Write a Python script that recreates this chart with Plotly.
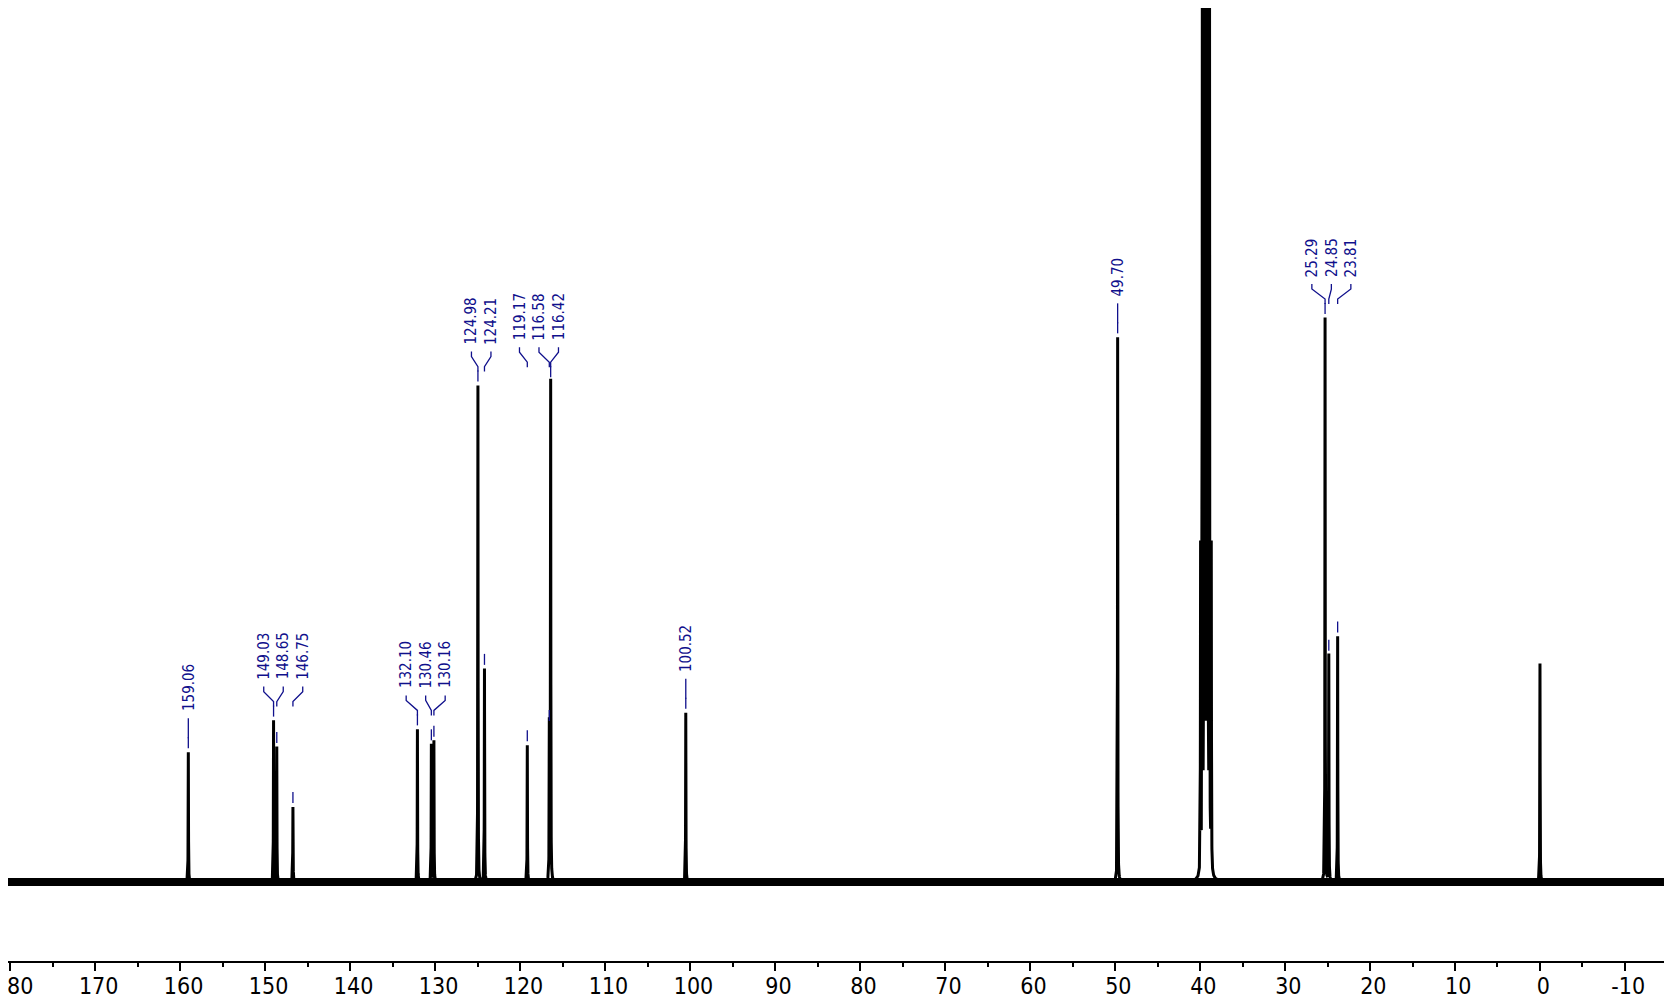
import numpy as np
import plotly.graph_objects as go

# ---------------- data ----------------
peak_ppm = [159.06, 149.03, 148.65, 146.75, 132.10, 130.46, 130.16, 124.98, 124.21,
            119.17, 116.58, 116.42, 100.52, 49.70, 25.29, 24.85, 23.81]
peak_height = [0.148, 0.184, 0.154, 0.0855, 0.174, 0.157, 0.161, 0.566, 0.243,
               0.156, 0.179, 0.571, 0.193, 0.621, 0.643, 0.259, 0.280]
peak_group = [0, 1, 1, 1, 2, 2, 2, 3, 3, 4, 4, 4, 5, 6, 7, 7, 7]

# unlabelled signals: solvent septet (DMSO-d6) and TMS reference
solvent_ppm = [39.94, 39.73, 39.52, 39.31, 39.10, 38.89, 38.68]
solvent_height = [0.37, 1.11, 2.22, 2.59, 2.22, 1.11, 0.37]
tms_ppm = [0.00]
tms_height = [0.249]

tick_values = [180, 170, 160, 150, 140, 130, 120, 110, 100, 90, 80, 70, 60, 50,
               40, 30, 20, 10, 0, -10]
tick_text = ["\u00a0" + str(v) for v in tick_values]

# ---------------- layout constants ----------------
# the page body adds an 8 px margin, so the figure is sized to end at the window edge
W, H = 1664, 992
M_L, M_R, M_T, M_B = 0, 6, 0, 39
X_RANGE = [180.28, -14.83]
plot_h = H - M_T - M_B
plot_w = W - M_L - M_R
KY = 1.09 / 956                                   # data units per pixel (y)
Y_RANGE = [-79 * KY, (plot_h - 79) * KY]
KX = (X_RANGE[0] - X_RANGE[1]) / plot_w          # ppm per pixel (x)
GAMMA = 0.02
LABEL_COLOR = "#10108c"
FONT = "DejaVu Sans Condensed, DejaVu Sans"

# ---------------- spectrum trace ----------------
all_ppm = peak_ppm + solvent_ppm + tms_ppm
all_h = peak_height + solvent_height + tms_height
x = np.round(np.arange(X_RANGE[1], X_RANGE[0] + 0.0025, 0.005), 3)
y = np.zeros_like(x)
for p, h in zip(all_ppm, all_h):
    y += h * GAMMA ** 2 / ((x - p) ** 2 + GAMMA ** 2)

fig = go.Figure()
# baseline noise band
fig.add_trace(go.Scatter(x=[X_RANGE[0], X_RANGE[1]], y=[0, 0], mode="lines",
                         line=dict(color="black", width=8), hoverinfo="skip",
                         showlegend=False))
fig.add_trace(go.Scatter(x=x, y=y, mode="lines",
                         line=dict(color="black", width=3), showlegend=False))

# ---------------- peak labels and connectors ----------------
cx, cy = [], []
groups = sorted(set(peak_group))
spacing = 19.5 * KX
annotations = []
for g in groups:
    idx = [i for i, gg in enumerate(peak_group) if gg == g]
    idx.sort(key=lambda i: -peak_ppm[i])
    ppms = [peak_ppm[i] for i in idx]
    hts = [peak_height[i] for i in idx]
    n = len(idx)
    center = (max(ppms) + min(ppms)) / 2
    y_label = max(hts) + 40 * KY
    for j, (p, h) in enumerate(zip(ppms, hts)):
        lx = center + ((n - 1) / 2 - j) * spacing if n > 1 else p
        annotations.append(dict(x=lx, y=y_label, xref="x", yref="y",
                                text=f"{p:.2f}", textangle=-90, showarrow=False,
                                xanchor="center", yanchor="bottom", borderpad=0,
                                font=dict(family=FONT, size=15,
                                          color=LABEL_COLOR)))
        # connector from label to peak position
        y0 = y_label - 6 * KY
        y1 = y_label - 11 * KY
        y2 = y_label - 21 * KY
        y3 = y_label - 26 * KY
        cx += [lx, lx, p, p, None]
        cy += [y0, y1, y2, y3, None]
        # tick just above the peak top
        cx += [p, p, None]
        cy += [h + 15 * KY, h + 4 * KY, None]

fig.add_trace(go.Scatter(x=cx, y=cy, mode="lines",
                         line=dict(color=LABEL_COLOR, width=1.3),
                         hoverinfo="skip", showlegend=False))

fig.update_layout(
    width=W, height=H,
    margin=dict(l=M_L, r=M_R, t=M_T, b=M_B, pad=0, autoexpand=False),
    paper_bgcolor="white", plot_bgcolor="white",
    annotations=annotations,
    showlegend=False,
    xaxis=dict(range=X_RANGE, showgrid=False, zeroline=False, automargin=False,
               showline=True, linecolor="black", linewidth=1.5,
               ticks="outside", ticklen=8, tickwidth=1.5, tickcolor="black",
               tickvals=tick_values, ticktext=tick_text,
               ticklabeloverflow="allow", ticklabelstandoff=-4,
               tickfont=dict(family=FONT, size=23, color="black"),
               minor=dict(dtick=5, tick0=0, ticks="outside", ticklen=4,
                          tickwidth=1.5, tickcolor="black"),
               mirror=False),
    yaxis=dict(range=Y_RANGE, visible=False, showgrid=False, zeroline=False),
)

fig.write_html("out.html")
